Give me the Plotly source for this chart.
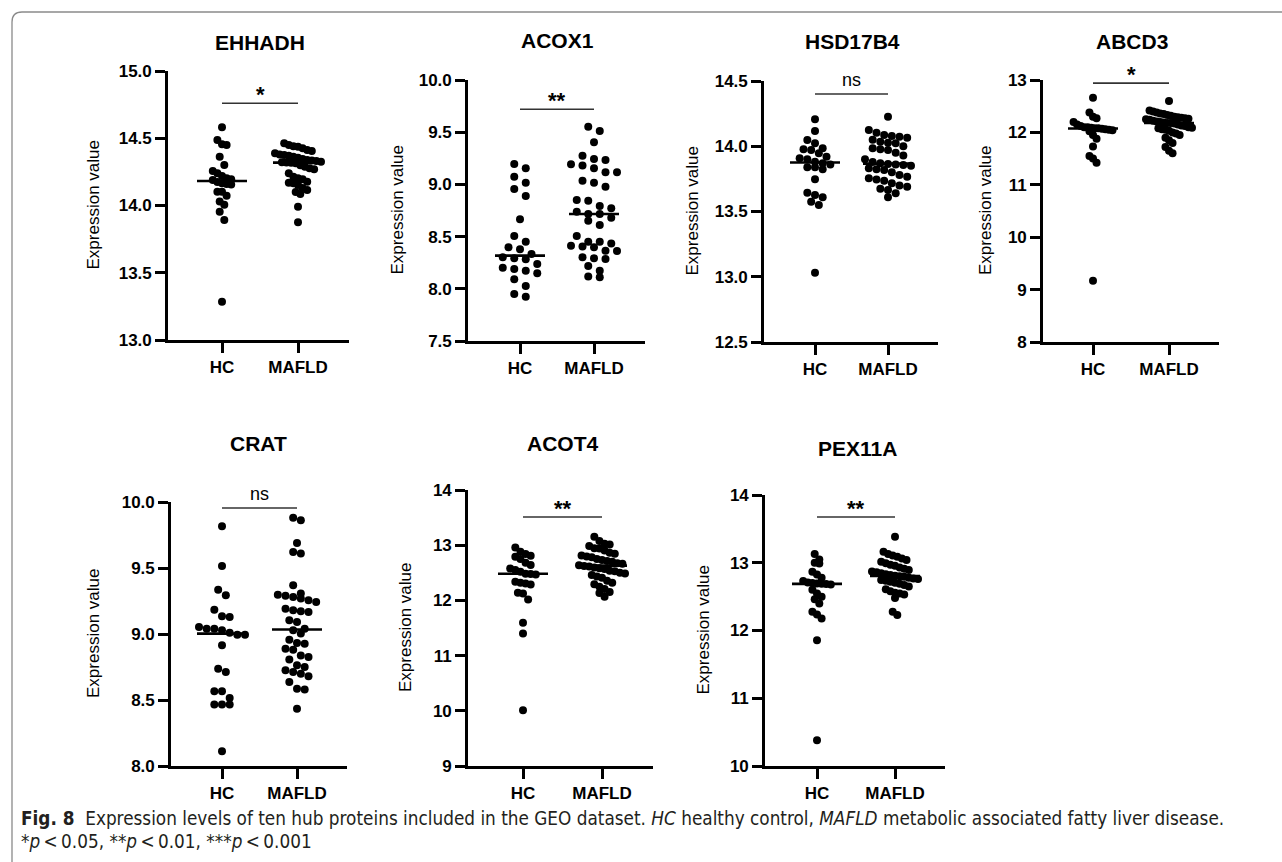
import numpy as np
import plotly.graph_objects as go

# ---------------- data ----------------
groups = ["HC", "MAFLD"]
genes = ["EHHADH", "ACOX1", "HSD17B4", "ABCD3", "CRAT", "ACOT4", "PEX11A"]
sig_labels = ["*", "**", "ns", "*", "ns", "**", "**"]

ehhadh_hc = [14.581, 14.487, 14.455, 14.450, 14.363, 14.301, 14.257, 14.239, 14.219, 14.202,
             14.195, 14.190, 14.175, 14.165, 14.157, 14.160, 14.103, 14.103, 14.073, 14.030,
             14.005, 13.954, 13.892, 13.285]
ehhadh_mafld = [14.462, 14.450, 14.440, 14.437, 14.425, 14.413, 14.405, 14.388, 14.380, 14.375,
                14.370, 14.363, 14.355, 14.345, 14.338, 14.335, 14.330, 14.326, 14.322, 14.320,
                14.318, 14.314, 14.300, 14.289, 14.277, 14.270, 14.240, 14.214, 14.202, 14.195,
                14.177, 14.170, 14.165, 14.152, 14.130, 14.115, 14.100, 14.086, 13.991, 13.875]

acox1_hc = [9.195, 9.154, 9.074, 9.016, 8.956, 8.889, 8.665, 8.506, 8.451, 8.397,
            8.378, 8.302, 8.333, 8.282, 8.292, 8.190, 8.238, 8.202, 8.148, 8.174,
            8.091, 8.027, 7.924, 7.950]
acox1_mafld = [9.511, 9.553, 9.403, 9.275, 9.234, 9.243, 9.180, 9.192, 9.116, 9.116,
               9.154, 9.016, 8.978, 9.036, 8.844, 8.851, 8.793, 8.771, 8.716, 8.739,
               8.716, 8.681, 8.653, 8.611, 8.506, 8.451, 8.451, 8.413, 8.435, 8.397,
               8.404, 8.362, 8.365, 8.302, 8.292, 8.285, 8.218, 8.174, 8.110, 8.118]

hsd17b4_hc = [14.206, 14.117, 14.048, 14.023, 13.984, 13.977, 13.971, 13.946, 13.920, 13.908,
              13.900, 13.882, 13.869, 13.861, 13.839, 13.839, 13.823, 13.747, 13.644, 13.626,
              13.609, 13.575, 13.550, 13.031]
hsd17b4_mafld = [14.227, 14.125, 14.104, 14.086, 14.079, 14.072, 14.066, 14.050, 14.035, 14.027,
                 14.023, 14.000, 13.984, 13.977, 13.971, 13.950, 13.930, 13.900, 13.880, 13.869,
                 13.864, 13.860, 13.856, 13.850, 13.831, 13.823, 13.818, 13.800, 13.780, 13.767,
                 13.755, 13.745, 13.736, 13.716, 13.700, 13.690, 13.675, 13.665, 13.640, 13.609]

abcd3_hc = [12.66, 12.38, 12.30, 12.27, 12.20, 12.15, 12.12, 12.10, 12.10, 12.09,
            12.08, 12.08, 12.07, 12.06, 12.05, 12.04, 12.02, 11.95, 11.88, 11.73,
            11.55, 11.50, 11.42, 9.17]
abcd3_mafld = [12.60, 12.42, 12.40, 12.38, 12.36, 12.35, 12.33, 12.32, 12.30, 12.29,
               12.28, 12.27, 12.26, 12.25, 12.24, 12.22, 12.21, 12.20, 12.19, 12.18,
               12.18, 12.17, 12.15, 12.13, 12.12, 12.10, 12.09, 12.08, 12.06, 12.05,
               12.03, 12.00, 11.98, 11.95, 11.90, 11.85, 11.80, 11.72, 11.65, 11.60]

crat_hc = [9.816, 9.515, 9.336, 9.293, 9.184, 9.134, 9.129, 9.053, 9.040, 9.040,
           9.028, 9.010, 8.995, 8.995, 8.914, 8.737, 8.712, 8.566, 8.566, 8.515,
           8.465, 8.465, 8.465, 8.111]
crat_mafld = [9.881, 9.861, 9.689, 9.621, 9.609, 9.369, 9.306, 9.298, 9.290, 9.280,
              9.268, 9.255, 9.242, 9.192, 9.180, 9.172, 9.167, 9.104, 9.091, 9.040,
              9.028, 9.003, 8.957, 8.932, 8.927, 8.889, 8.881, 8.838, 8.826, 8.806,
              8.763, 8.750, 8.725, 8.712, 8.699, 8.679, 8.636, 8.586, 8.580, 8.434]

acot4_hc = [12.960, 12.881, 12.840, 12.809, 12.791, 12.748, 12.682, 12.640, 12.579, 12.549,
            12.519, 12.485, 12.478, 12.470, 12.337, 12.319, 12.307, 12.289, 12.140, 12.126,
            12.017, 11.594, 11.400, 10.010]
acot4_mafld = [13.154, 13.075, 13.028, 13.012, 12.985, 12.947, 12.938, 12.905, 12.862, 12.843,
               12.812, 12.795, 12.781, 12.752, 12.733, 12.714, 12.698, 12.671, 12.662, 12.638,
               12.621, 12.615, 12.597, 12.584, 12.569, 12.538, 12.527, 12.503, 12.488, 12.462,
               12.431, 12.412, 12.355, 12.318, 12.291, 12.247, 12.205, 12.152, 12.133, 12.068]

pex11a_hc = [13.128, 13.049, 13.000, 12.990, 12.867, 12.828, 12.778, 12.730, 12.709, 12.700,
             12.695, 12.690, 12.685, 12.680, 12.600, 12.547, 12.498, 12.463, 12.399, 12.276,
             12.236, 12.177, 11.857, 10.379]
pex11a_mafld = [13.384, 13.163, 13.128, 13.108, 13.089, 13.064, 13.040, 13.015, 12.992, 12.970,
                12.955, 12.930, 12.912, 12.893, 12.872, 12.860, 12.845, 12.832, 12.818, 12.808,
                12.800, 12.792, 12.780, 12.768, 12.760, 12.744, 12.735, 12.719, 12.705, 12.690,
                12.672, 12.650, 12.610, 12.580, 12.557, 12.547, 12.530, 12.480, 12.276, 12.227]

y_ranges = [(13.0, 15.0), (7.5, 10.0), (12.5, 14.5), (8, 13), (8.0, 10.0), (9, 14), (10, 14)]
y_dticks = [0.5, 0.5, 0.5, 1, 0.5, 1, 1]
y_formats = [".1f", ".1f", ".1f", "d", ".1f", "d", "d"]
sig_bar_values = [14.76, 9.72, 14.40, 12.94, 9.955, 13.51, 13.675]

series = [
    (ehhadh_hc, ehhadh_mafld), (acox1_hc, acox1_mafld), (hsd17b4_hc, hsd17b4_mafld),
    (abcd3_hc, abcd3_mafld), (crat_hc, crat_mafld), (acot4_hc, acot4_mafld),
    (pex11a_hc, pex11a_mafld),
]

# ---------------- layout geometry (pixels in the 1282x862 page) ----------------
W_PX, H_PX = 1282, 862
geom = [
    dict(x0=168, x1=349, hc=222, maf=298, top=71, bottom=340, tx=260, ty=42, lx=93),
    dict(x0=468, x1=645, hc=520, maf=594, top=80, bottom=341, tx=557, ty=40, lx=397),
    dict(x0=764, x1=938, hc=815, maf=888, top=81, bottom=342, tx=852, ty=41, lx=692),
    dict(x0=1043, x1=1219, hc=1093, maf=1169, top=80, bottom=342, tx=1132, ty=41, lx=985),
    dict(x0=171, x1=347, hc=222, maf=297, top=502, bottom=766, tx=258, ty=443, lx=93),
    dict(x0=468, x1=653, hc=523, maf=602, top=490, bottom=766, tx=562, ty=443, lx=405),
    dict(x0=765, x1=945, hc=817, maf=895, top=495, bottom=766, tx=857, ty=448, lx=703),
]

FONT = "Liberation Sans, Arial, sans-serif"
DOT = 8.0


def px(x):
    return x / W_PX


def py(y):
    return 1 - y / H_PX


def swarm_offsets(vals_list, ypu, row_h=8.5, max_w=46.0, s_max=14.0):
    """Prism-like row layout: group close values into rows, spread each row."""
    all_rows = []
    for vals in vals_list:
        v = np.asarray(vals, float)
        order = np.argsort(-v)
        rows, cur = [], [order[0]]
        for idx in order[1:]:
            if (v[cur[0]] - v[idx]) * ypu <= row_h:
                cur.append(idx)
            else:
                rows.append(cur)
                cur = [idx]
        rows.append(cur)
        all_rows.append(rows)
    nmax = max(len(r) for rows in all_rows for r in rows)
    s = s_max if nmax < 2 else min(s_max, max_w / (nmax - 1))
    out = []
    for vals, rows in zip(vals_list, all_rows):
        off = np.zeros(len(vals))
        for r in rows:
            n = len(r)
            for i, idx in enumerate(r):
                off[idx] = (i - (n - 1) / 2) * s
        out.append(off)
    return out


fig = go.Figure()
annotations = []

for k, (gene, (hc, maf), g) in enumerate(zip(genes, series, geom)):
    ax = "" if k == 0 else str(k + 1)
    xa, ya = "x" + ax, "y" + ax
    unit = g["maf"] - g["hc"]
    xr = [(g["x0"] - g["hc"]) / unit, (g["x1"] - g["hc"]) / unit]
    yr = y_ranges[k]
    hpx = g["bottom"] - g["top"]
    ypu = hpx / (yr[1] - yr[0])

    offs = swarm_offsets([hc, maf], ypu)
    for gi, (vals, off) in enumerate(zip([hc, maf], offs)):
        fig.add_trace(go.Scatter(
            x=gi + off / unit, y=vals, mode="markers", xaxis=xa, yaxis=ya,
            marker=dict(size=DOT, color="black", line=dict(width=0)),
            cliponaxis=False, showlegend=False, hoverinfo="y"))
        med = float(np.median(vals))
        fig.add_trace(go.Scatter(
            x=[gi - 25 / unit, gi + 25 / unit], y=[med, med], mode="lines",
            xaxis=xa, yaxis=ya, line=dict(color="black", width=2.6),
            showlegend=False, hoverinfo="skip"))

    bar_y = sig_bar_values[k]
    fig.add_trace(go.Scatter(
        x=[0, 1], y=[bar_y, bar_y], mode="lines", xaxis=xa, yaxis=ya,
        line=dict(color="#333333", width=1.6), showlegend=False, hoverinfo="skip"))
    lab = sig_labels[k]
    bar_frac = (bar_y - yr[0]) / (yr[1] - yr[0])
    lift = 14 if lab == "ns" else 9
    annotations.append(dict(
        x=0.5, y=bar_frac + lift / hpx, xref=xa, yref=ya + " domain",
        text=lab if lab == "ns" else "<b>%s</b>" % lab, showarrow=False,
        font=dict(family=FONT, size=18 if lab == "ns" else 22, color="black"),
        yanchor="middle", xanchor="center"))

    common = dict(
        showline=True, linecolor="black", linewidth=2.6,
        ticks="outside", ticklen=10, tickwidth=2.6, tickcolor="black",
        showgrid=False, zeroline=False, fixedrange=True, automargin=False,
        tickfont=dict(family=FONT, size=17, color="black", weight="bold"))
    fig.layout["xaxis" + ax] = dict(
        domain=[px(g["x0"]), px(g["x1"])], range=xr, anchor=ya,
        tickmode="array", tickvals=[0, 1], ticktext=groups, **common)
    fig.layout["yaxis" + ax] = dict(
        domain=[py(g["bottom"]), py(g["top"])], range=list(yr), anchor=xa,
        tickmode="linear", tick0=yr[0], dtick=y_dticks[k], tickformat=y_formats[k],
        **common)

    annotations.append(dict(
        x=px(g["tx"]), y=py(g["ty"]), xref="paper", yref="paper", text="<b>%s</b>" % gene,
        showarrow=False, font=dict(family=FONT, size=21, color="black"),
        xanchor="center", yanchor="middle"))
    annotations.append(dict(
        x=px(g["lx"]), y=py((g["top"] + g["bottom"]) / 2), xref="paper", yref="paper",
        text="Expression value", textangle=-90, showarrow=False,
        font=dict(family=FONT, size=17, color="black"),
        xanchor="center", yanchor="middle"))

CAP_FONT = "DejaVu Sans Condensed, DejaVu Sans, sans-serif"
annotations.append(dict(
    x=px(19), y=py(818), xref="paper", yref="paper", xanchor="left", yanchor="middle",
    showarrow=False, align="left",
    text="<b>Fig. 8</b>  Expression levels of ten hub proteins included in the GEO dataset. "
         "<i>HC</i> healthy control, <i>MAFLD</i> metabolic associated fatty liver disease.",
    font=dict(family=CAP_FONT, size=18.8, color="#231f20")))
annotations.append(dict(
    x=px(19), y=py(841), xref="paper", yref="paper", xanchor="left", yanchor="middle",
    showarrow=False, align="left",
    text="*<i>p</i>\u2009&lt;\u20090.05, **<i>p</i>\u2009&lt;\u20090.01, ***<i>p</i>\u2009&lt;\u20090.001",
    font=dict(family=CAP_FONT, size=18.8, color="#231f20")))

# figure frame (top and left edges with a rounded corner)
fx, fy, rr = px(12), py(12), 10
border = ("M %f,%f L %f,%f Q %f,%f %f,%f L %f,%f" % (
    fx, 0, fx, py(12 + rr), fx, fy, px(12 + rr), fy, 1.0, fy))

fig.update_layout(
    width=W_PX, height=H_PX,
    margin=dict(l=0, r=0, t=0, b=0, pad=0, autoexpand=False),
    paper_bgcolor="white", plot_bgcolor="white",
    annotations=annotations,
    shapes=[dict(type="path", path=border, xref="paper", yref="paper",
                 line=dict(color="#8a8a8a", width=1.3))],
    showlegend=False,
)

pin = ("document.body.style.margin='0';document.body.style.overflow='hidden';"
       "var d=document.getElementById('{plot_id}');"
       "d.style.position='fixed';d.style.left='0px';d.style.top='0px';")
fig.write_html("out.html", post_script=pin, config={"displayModeBar": False})
